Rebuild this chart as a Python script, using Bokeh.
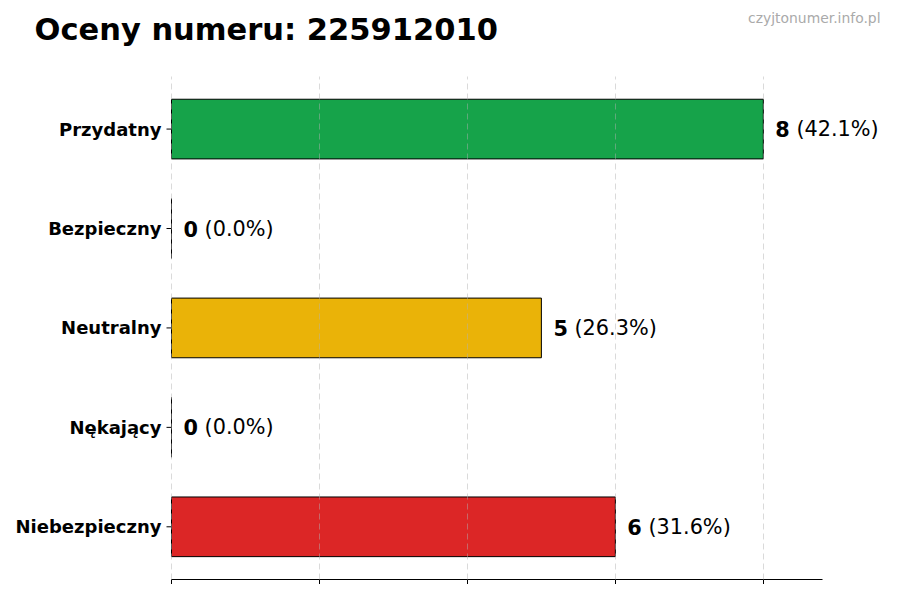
import math
from bokeh.plotting import figure
from bokeh.models import ColumnDataSource, Range1d, FixedTicker, LabelSet, Label
from bokeh.core.properties import value
from bokeh.embed import file_html
from bokeh.resources import INLINE

# ---- data ----
categories = ["Przydatny", "Bezpieczny", "Neutralny", "Nękający", "Niebezpieczny"]
counts = [8, 0, 5, 0, 6]
percents = [42.1, 0.0, 26.3, 0.0, 31.6]
colors = ["#16a34a", "#2563eb", "#eab308", "#f97316", "#dc2626"]
title_text = "Oceny numeru: 225912010"
watermark = "czyjtonumer.info.pl"
x_ticks = [0, 2, 4, 6, 8]

FONT = "DejaVu Sans"
VAL_PX = 20.8

n = len(categories)
ypos = [n - 1 - i for i in range(n)]          # first category on top
num_text = [str(c) for c in counts]
rest_text = ["(%.1f%%)" % p for p in percents]
# offset of the normal part after the bold number (bold digit width + space)
rest_off = [12 + len(t) * 0.696 * VAL_PX + 0.318 * VAL_PX for t in num_text]

src = ColumnDataSource(dict(y=ypos, cat=categories, zero=[0] * n, cnt=counts,
                            col=colors, num=num_text, rest=rest_text, roff=rest_off))

# ---- geometry (frame covers the whole canvas so texts are never clipped) ----
XMAX = max(counts) * 1.1                 # visible axis extent
PX_X = 651 / XMAX                        # px per x unit
X_START = -171 / PX_X                    # room on the left for category labels
X_END = (884 - 171) / PX_X               # room on the right for value labels
Y_LO, Y_HI = -0.53, n - 1 + 0.53         # category area
PX_Y = 504 / (Y_HI - Y_LO)
Y_VIEW = Y_HI + 76 / PX_Y                # room on top for the title

p = figure(width=884, height=584, output_backend="svg", toolbar_location=None,
           x_range=Range1d(X_START, X_END), y_range=Range1d(Y_LO, Y_VIEW),
           min_border_left=0, min_border_right=0, min_border_top=0,
           min_border_bottom=4)
p.outline_line_color = None
p.background_fill_color = "white"
p.border_fill_color = "white"

p.hbar(y="y", left=0, right="cnt", height=0.6, source=src,
       fill_color="col", line_color="black", line_width=1)

p.add_layout(LabelSet(x="cnt", y="y", text="num", source=src, x_offset=12,
                      text_baseline="middle", text_align="left",
                      text_font=value(FONT), text_font_size="%.1fpx" % VAL_PX,
                      text_font_style="bold", text_color="black"))
p.add_layout(LabelSet(x="cnt", y="y", text="rest", source=src, x_offset="roff",
                      text_baseline="middle", text_align="left",
                      text_font=value(FONT), text_font_size="%.1fpx" % VAL_PX,
                      text_color="black"))

# grid (vertical dashed lines only over the category area)
p.ygrid.grid_line_color = None
p.xgrid.ticker = FixedTicker(ticks=x_ticks)
p.xgrid.grid_line_color = "#b0b0b0"
p.xgrid.grid_line_alpha = 0.6
p.xgrid.grid_line_dash = "6 4"
p.xgrid.grid_line_width = 0.8
p.xgrid.level = "overlay"
p.xgrid.cross_bounds = (Y_LO, Y_HI)

# x axis (line + tick marks, no labels)
p.xaxis.ticker = FixedTicker(ticks=x_ticks)
p.xaxis.bounds = (0, XMAX)
p.xaxis.major_label_overrides = {t: "" for t in x_ticks}
p.xaxis.major_label_text_font_size = "0px"
p.xaxis.major_label_standoff = 0
p.xaxis.major_tick_in = 0
p.xaxis.major_tick_out = 5
p.xaxis.minor_tick_line_color = None
p.xaxis.axis_line_color = "black"
p.xaxis.axis_line_width = 1.2
p.xaxis.major_tick_line_color = "black"

# y axis: category labels + small outward ticks at x = 0
p.yaxis.visible = False
p.ray(x="zero", y="y", length=5, length_units="screen", angle=math.pi,
      source=src, line_color="black", line_width=1)
p.add_layout(LabelSet(x="zero", y="y", text="cat", source=src, x_offset=-10,
                      text_baseline="middle", text_align="right",
                      text_font=value(FONT), text_font_size="18px",
                      text_font_style="bold", text_color="black"))

# title and watermark
p.add_layout(Label(x=(34 - 171) / PX_X, y=Y_HI + 47 / PX_Y, text=title_text,
                   text_font=FONT, text_font_style="bold", text_font_size="30.5px",
                   text_color="black", text_baseline="alphabetic", text_align="left"))
p.add_layout(Label(x=(880 - 171) / PX_X, y=Y_HI + 58 / PX_Y, text=watermark,
                   text_font=FONT, text_font_size="13.9px", text_color="#aaaaaa",
                   text_baseline="alphabetic", text_align="right"))

open("out.html", "w").write(file_html(p, INLINE))
